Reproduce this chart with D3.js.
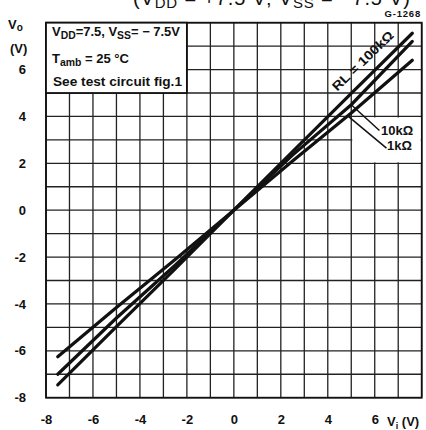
<!DOCTYPE html>
<html>
<head>
<meta charset="utf-8">
<script src="https://cdn.jsdelivr.net/npm/d3@7/dist/d3.min.js"></script>
<style>
  html, body { margin: 0; padding: 0; background: #fff; }
  svg { display: block; }
  text { font-family: "Liberation Sans", Arial, Helvetica, sans-serif; fill: #111; }
</style>
</head>
<body>
<script>
// Input voltage samples (V) and output voltage per load resistance (V)
const inputVoltage = [-7.5, -5, -2.5, 0, 2.5, 5, 7.6];
const outRL100k = [-7.45, -4.97, -2.5, 0, 2.5, 4.98, 7.55];
const outRL10k  = [-7.0, -4.6, -2.35, 0, 2.35, 4.5, 7.2];
const outRL1k   = [-6.25, -4.15, -2.1, 0, 2.1, 4.15, 6.4];

const seriesNames = ["RL = 100kΩ", "10kΩ", "1kΩ"];
const xTickValues = [-8, -6, -4, -2, 0, 2, 4, 6];
const yTickValues = [-8, -6, -4, -2, 0, 2, 4, 6];
const gridValues = d3.range(-8, 9, 1);

const W = 426, H = 430;
const svg = d3.select("body").append("svg").attr("width", W).attr("height", H);

const x = d3.scaleLinear().domain([-8, 8]).range([46, 421.7]);
const y = d3.scaleLinear().domain([-8, 8]).range([397.7, 22.7]);

// Heading, only its lower part falls inside the page
const head = svg.append("text").attr("x", 133).attr("y", 4.5)
  .attr("font-size", 20).attr("textLength", 277).attr("lengthAdjust", "spacing");
head.append("tspan").text("(V");
head.append("tspan").attr("dy", 3).attr("font-size", 15).text("DD");
head.append("tspan").attr("dy", -3).text(" = +7.5 V; V");
head.append("tspan").attr("dy", 3).attr("font-size", 15).text("SS");
head.append("tspan").attr("dy", -3).text(" = −7.5 V)");

svg.append("text").attr("x", 421).attr("y", 16.5).attr("text-anchor", "end")
  .attr("font-size", 9.5).attr("font-weight", "bold").attr("letter-spacing", 0.8)
  .text("G-1268");

// Grid
const grid = svg.append("g").attr("stroke", "#222").attr("stroke-width", 1.3);
grid.selectAll("line.v").data(gridValues).join("line").attr("class", "v")
  .attr("x1", d => x(d)).attr("x2", d => x(d))
  .attr("y1", y(8)).attr("y2", y(-8));
grid.selectAll("line.h").data(gridValues).join("line").attr("class", "h")
  .attr("y1", d => y(d)).attr("y2", d => y(d))
  .attr("x1", x(-8)).attr("x2", x(8));

// Plot frame
svg.append("rect").attr("x", x(-8)).attr("y", y(8))
  .attr("width", x(8) - x(-8)).attr("height", y(-8) - y(8))
  .attr("fill", "none").attr("stroke", "#111").attr("stroke-width", 1.8);

// Conditions box (upper left)
svg.append("rect").attr("x", x(-8)).attr("y", y(8))
  .attr("width", x(-2) - x(-8)).attr("height", y(5) - y(8))
  .attr("fill", "#fff").attr("stroke", "#111").attr("stroke-width", 1.8);

const boxText = svg.append("g").attr("font-weight", "bold");
const c1 = boxText.append("text").attr("x", 52).attr("y", 36).attr("font-size", 12.5)
  .attr("textLength", 128).attr("lengthAdjust", "spacingAndGlyphs");
c1.append("tspan").text("V");
c1.append("tspan").attr("dy", 3).attr("font-size", 10).text("DD");
c1.append("tspan").attr("dy", -3).text("=7.5, V");
c1.append("tspan").attr("dy", 3).attr("font-size", 10).text("SS");
c1.append("tspan").attr("dy", -3).text("= − 7.5V");

const c2 = boxText.append("text").attr("x", 52).attr("y", 63).attr("font-size", 12.5)
  .attr("textLength", 77).attr("lengthAdjust", "spacingAndGlyphs");
c2.append("tspan").text("T");
c2.append("tspan").attr("dy", 3).attr("font-size", 10).text("amb");
c2.append("tspan").attr("dy", -3).text(" = 25 °C");

boxText.append("text").attr("x", 53).attr("y", 86).attr("font-size", 12.5)
  .attr("textLength", 129).attr("lengthAdjust", "spacingAndGlyphs")
  .text("See test circuit fig.1");

// Knock-out area behind the small curve labels
svg.append("rect").attr("x", x(5) + 1).attr("y", y(4) + 1)
  .attr("width", x(8) - x(5) - 2).attr("height", y(2) - y(4) - 2)
  .attr("fill", "#fff");

// Transfer curves
const line = d3.line().x(d => x(d[0])).y(d => y(d[1]));
const series = [outRL100k, outRL10k, outRL1k].map(v => inputVoltage.map((vi, i) => [vi, v[i]]));
svg.append("g").selectAll("path").data(series).join("path")
  .attr("d", line).attr("fill", "none").attr("stroke", "#111")
  .attr("stroke-width", 3.2).attr("stroke-linecap", "round");

// Curve labels
svg.append("text").attr("transform", `translate(${x(4.4)},${y(5.05)}) rotate(-44)`)
  .attr("font-size", 13).attr("font-weight", "bold")
  .attr("textLength", 80).attr("lengthAdjust", "spacingAndGlyphs")
  .text(seriesNames[0]);

const interp = (vals, vi) => d3.scaleLinear().domain(inputVoltage).range(vals)(vi);
const leaders = [
  { from: [5.0, interp(outRL10k, 5.0)], to: [6.2, 3.4], label: seriesNames[1], tx: 381, ty: 135 },
  { from: [4.85, interp(outRL1k, 4.85)], to: [6.5, 2.65], label: seriesNames[2], tx: 387, ty: 150 }
];
svg.append("g").selectAll("line").data(leaders).join("line")
  .attr("x1", d => x(d.from[0])).attr("y1", d => y(d.from[1]))
  .attr("x2", d => x(d.to[0])).attr("y2", d => y(d.to[1]))
  .attr("stroke", "#111").attr("stroke-width", 1.5);
svg.append("g").selectAll("text").data(leaders).join("text")
  .attr("x", d => d.tx).attr("y", d => d.ty).attr("font-size", 13).attr("font-weight", "bold")
  .text(d => d.label);

// Axes labels
const xAxis = d3.axisBottom(x).tickValues(xTickValues).tickSize(0).tickPadding(17)
  .tickFormat(d => String(d));
svg.append("g").attr("transform", `translate(0,${y(-8)})`).call(xAxis)
  .call(g => g.select(".domain").remove())
  .selectAll("text").attr("font-size", 13).attr("font-weight", "bold")
  .attr("font-family", "Liberation Sans, Arial, sans-serif").attr("fill", "#111");

const yAxis = d3.axisLeft(y).tickValues(yTickValues).tickSize(0).tickPadding(20)
  .tickFormat(d => String(d));
svg.append("g").attr("transform", `translate(${x(-8)},0)`).call(yAxis)
  .call(g => g.select(".domain").remove())
  .selectAll("text").attr("font-size", 13).attr("font-weight", "bold")
  .attr("font-family", "Liberation Sans, Arial, sans-serif").attr("fill", "#111");

const xl = svg.append("text").attr("x", 387).attr("y", 426).attr("font-size", 13).attr("font-weight", "bold");
xl.append("tspan").text("V");
xl.append("tspan").attr("dy", 3).attr("font-size", 9).text("i");
xl.append("tspan").attr("dy", -3).text(" (V)");

const yl = svg.append("text").attr("x", 8).attr("y", 29).attr("font-size", 13).attr("font-weight", "bold");
yl.append("tspan").text("V");
yl.append("tspan").attr("dy", 2).attr("font-size", 10).text("o");
svg.append("text").attr("x", 10).attr("y", 53).attr("font-size", 13).attr("font-weight", "bold").text("(V)");
</script>
</body>
</html>
